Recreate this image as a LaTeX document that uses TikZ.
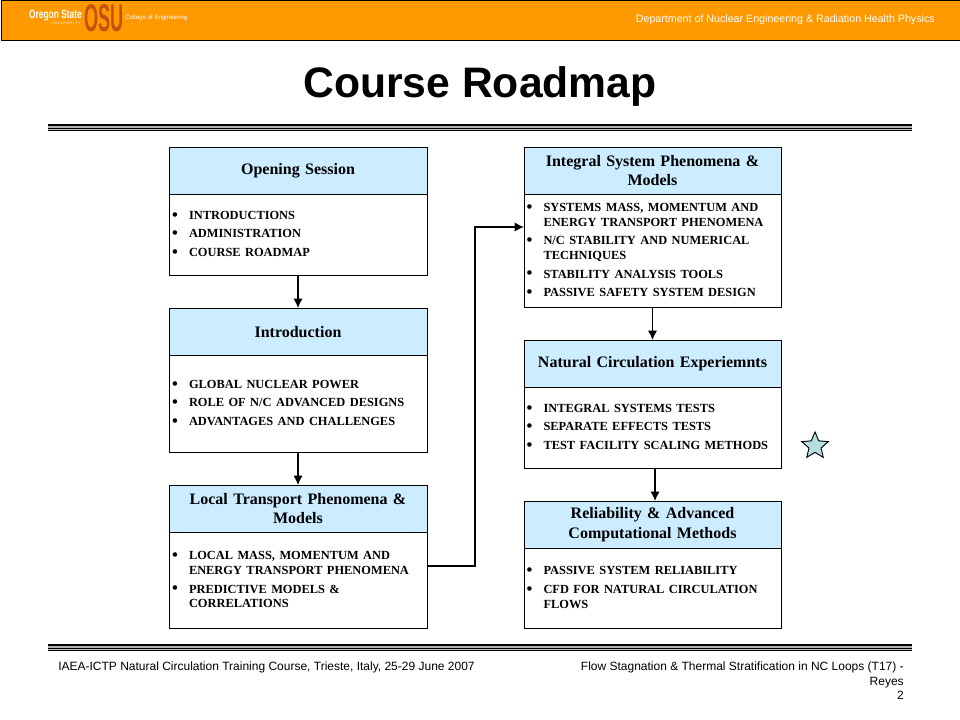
\documentclass[tikz,border=0pt]{standalone}
\usepackage{fontspec}
\setmainfont{Liberation Serif}
\setsansfont{Liberation Sans}
\usetikzlibrary{positioning,shapes.geometric,arrows.meta}
\definecolor{bannerorange}{HTML}{FF9900}
\definecolor{titleblue}{HTML}{CCECFF}
\definecolor{osured}{HTML}{C8500F}
\definecolor{starblue}{HTML}{B5DEE0}
\newenvironment{bulletlist}{%
  \vspace*{-6pt}%
  \begin{list}{\makebox[0pt][c]{\raisebox{-0.7pt}{\fontsize{12.5}{11.2}\selectfont\textbullet}}}{%
    \setlength{\topsep}{0pt}\setlength{\partopsep}{0pt}%
    \setlength{\parsep}{0pt}\setlength{\itemsep}{0pt}%
    \setlength{\leftmargin}{11.75pt}\setlength{\labelsep}{10.5pt}\setlength{\labelwidth}{0pt}}}%
  {\end{list}}
\newcommand{\bodyfont}{\fontsize{9.3}{11.2}\selectfont\bfseries}
\newcommand{\itemgap}{\vspace{2.7pt}}

\begin{document}
\begin{tikzpicture}[
x=0.75pt,y=-0.75pt,
titlebox/.style={
  draw,
  fill=titleblue,
  line width=0.7pt,
  outer sep=0pt,
  minimum width=193.5pt,
  minimum height=35.5pt,
  text width=186pt,
  align=center,
  font=\fontsize{12}{14.3}\selectfont\bfseries
},
bodybox/.style={
  draw,
  fill=white,
  line width=0.7pt,
  outer sep=0pt,
  minimum width=193.5pt,
  text width=187pt,
  inner xsep=2.25pt,
  inner ysep=0pt,
  below=0pt of #1
},
narrower/.style={minimum width=192.75pt},
flow/.style={-{Latex[length=7pt,width=7pt]},line width=1.1pt},
footer/.style={font=\sffamily\fontsize{9}{10.9}\selectfont,inner sep=0pt}
]
\useasboundingbox (0,0) rectangle (960,720);

% banner
\node[draw,fill=bannerorange,line width=0.75pt,anchor=north west,minimum width=725pt,minimum height=29.6pt,inner sep=0pt] at (0.5,0.5) (banner) {};
\node[text=white,font=\sffamily\fontsize{8}{10}\selectfont,anchor=east,inner sep=0pt] at (935,20) (dept) {Department of Nuclear Engineering \& Radiation Health Physics};
\node[text=white,font=\sffamily\fontsize{9}{10}\selectfont\bfseries,xscale=0.7,anchor=east,inner sep=0pt] at (82,15.5) (oregon) {Oregon State};
\node[text=white,font=\sffamily\fontsize{2.6}{3}\selectfont,anchor=east,inner sep=0pt] at (81,23) (univ) {U N I V E R S I T Y};
\node[text=osured,font=\sffamily\fontsize{29}{29}\selectfont\bfseries,xscale=0.47,anchor=west,inner sep=0pt] at (84,18.3) (osu) {OSU};
\node[text=white,font=\sffamily\fontsize{4.6}{6}\selectfont,anchor=west,inner sep=0pt] at (125,18) (college) {College of Engineering};

% heading
\node[font=\sffamily\fontsize{32}{36}\selectfont\bfseries,inner sep=0pt] at (480,86) (heading) {Course Roadmap};

% rules
\foreach \ruley in {124,644} {
  \fill[black] (48,\ruley) rectangle (912,\ruley+2);
  \fill[gray!60] (48,\ruley+2) rectangle (912,\ruley+3.6);
  \fill[black] (48,\ruley+3.6) rectangle (912,\ruley+5);
  \fill[gray!50] (48,\ruley+5) rectangle (912,\ruley+6.2);
  \fill[black] (48,\ruley+6.2) rectangle (912,\ruley+7.4);
}

% left column
\node[titlebox,anchor=north west] at (169,147) (opening) {Opening Session};
\node[bodybox=opening,minimum height=60.75pt] (openingbody) {\bodyfont
\begin{bulletlist}
\item INTRODUCTIONS\itemgap
\item ADMINISTRATION\itemgap
\item COURSE ROADMAP
\end{bulletlist}};

\node[titlebox,anchor=north west] at (169,308) (intro) {Introduction};
\node[bodybox=intro,minimum height=72.75pt] (introbody) {\bodyfont
\begin{bulletlist}
\item GLOBAL NUCLEAR POWER\itemgap
\item ROLE OF N/C ADVANCED DESIGNS\itemgap
\item ADVANTAGES AND CHALLENGES
\end{bulletlist}};

\node[titlebox,anchor=north west] at (169,485) (local) {Local Transport Phenomena \&\\ Models};
\node[bodybox=local,minimum height=72pt] (localbody) {\bodyfont
\begin{bulletlist}
\item LOCAL MASS, MOMENTUM AND ENERGY TRANSPORT PHENOMENA\itemgap
\item PREDICTIVE MODELS \& CORRELATIONS
\end{bulletlist}};

% right column
\node[titlebox,narrower,anchor=north west] at (524,147) (integral) {Integral System Phenomena \&\\ Models};
\node[bodybox=integral,narrower,minimum height=84.75pt] (integralbody) {\bodyfont
\begin{bulletlist}
\item SYSTEMS MASS, MOMENTUM AND ENERGY TRANSPORT PHENOMENA\itemgap
\item N/C STABILITY AND NUMERICAL TECHNIQUES\itemgap
\item STABILITY ANALYSIS TOOLS\itemgap
\item PASSIVE SAFETY SYSTEM DESIGN
\end{bulletlist}};

\node[titlebox,narrower,anchor=north west] at (524,340) (natural) {Natural Circulation Experiemnts};
\node[bodybox=natural,narrower,minimum height=60.75pt] (naturalbody) {\bodyfont
\begin{bulletlist}
\item INTEGRAL SYSTEMS TESTS\itemgap
\item SEPARATE EFFECTS TESTS\itemgap
\item TEST FACILITY SCALING METHODS
\end{bulletlist}};

\node[titlebox,narrower,anchor=north west] at (524,501) (reliable) {Reliability \& Advanced\\ Computational Methods};
\node[bodybox=reliable,narrower,minimum height=60pt] (reliablebody) {\bodyfont
\begin{bulletlist}
\item PASSIVE SYSTEM RELIABILITY\itemgap
\item CFD FOR NATURAL CIRCULATION FLOWS
\end{bulletlist}};

% arrows
\draw[flow] (openingbody) -- (intro);
\draw[flow] (introbody) -- (local);
\draw[flow] (integralbody) -- (natural);
\draw[flow] ([xshift=1.9pt]naturalbody.south) -- ([xshift=1.9pt]reliable.north);
\coordinate (bendlow) at (475,566);
\coordinate (bendhigh) at (475,227);
\draw[flow] (localbody.east |- bendlow) -- (bendlow) -- (bendhigh) -- (integralbody.west |- bendhigh);

% marker
\node[star,star points=5,star point ratio=2.2,draw,fill=starblue,line width=0.7pt,minimum size=21pt,inner sep=0pt] at (815,446) (marker) {};

% footer
\node[footer,anchor=west] at (58,667) (footleft) {IAEA-ICTP Natural Circulation Training Course, Trieste, Italy, 25-29 June 2007};
\node[footer,anchor=north east,align=right] at (904,661.5) (footright) {Flow Stagnation \& Thermal Stratification in NC Loops (T17) -\\ Reyes\\ 2};
\end{tikzpicture}
\end{document}
